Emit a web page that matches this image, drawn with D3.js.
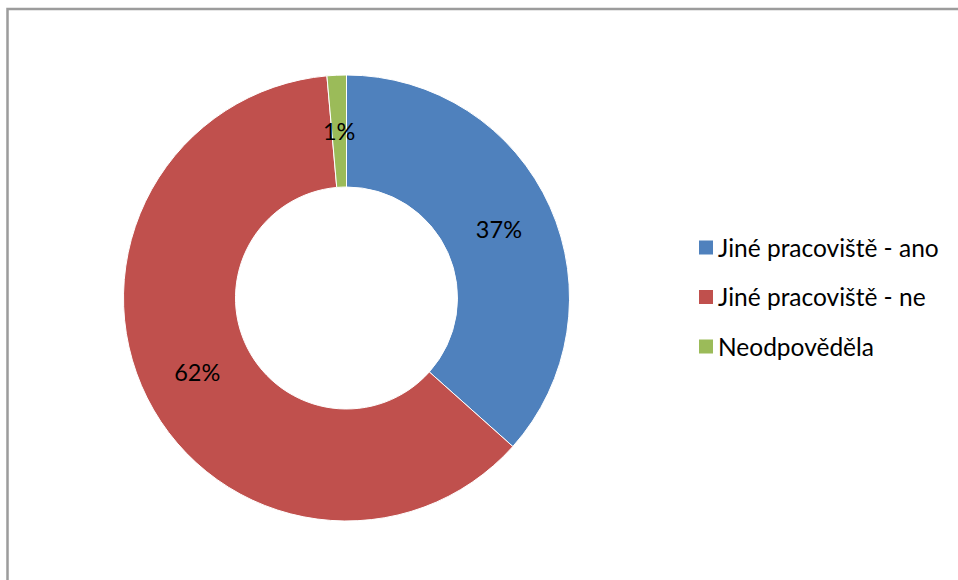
<!DOCTYPE html>
<html>
<head>
<meta charset="utf-8">
<script src="https://cdn.jsdelivr.net/npm/d3@7/dist/d3.min.js"></script>
<style>
  html, body { margin: 0; padding: 0; background: #fff; }
  svg { display: block; }
</style>
</head>
<body>
<svg id="chart" width="958" height="580"></svg>
<script>
// Survey answers: share of respondents (percent)
const categories = ["Jiné pracoviště - ano", "Jiné pracoviště - ne", "Neodpověděla"];
const shares = [36.6, 62.0, 1.4];
const colors = ["#4F81BD", "#C0504D", "#9BBB59"];

const W = 958, H = 580;
const cx = 346.5, cy = 298;
const rOuter = 223, rInner = 111;
const font = "Lato, 'Noto Sans', sans-serif";

const svg = d3.select("#chart");

// chart frame (open on the right and bottom edges of the page)
svg.append("rect")
  .attr("x", 7.5).attr("y", 9)
  .attr("width", 1200).attr("height", 1200)
  .attr("fill", "none")
  .attr("stroke", "#9c9c9c")
  .attr("stroke-width", 2.5);

const data = categories.map((c, i) => ({ name: c, value: shares[i], color: colors[i] }));

const pie = d3.pie().value(d => d.value).sort(null).startAngle(0).endAngle(2 * Math.PI);
const arc = d3.arc().innerRadius(rInner).outerRadius(rOuter);
const labelArc = d3.arc().innerRadius((rInner + rOuter) / 2).outerRadius((rInner + rOuter) / 2);

const g = svg.append("g").attr("transform", `translate(${cx},${cy})`);
const arcs = pie(data);

g.selectAll("path.slice")
  .data(arcs)
  .join("path")
  .attr("class", "slice")
  .attr("d", arc)
  .attr("fill", d => d.data.color)
  .attr("stroke", "#fff")
  .attr("stroke-width", 1);

g.selectAll("text.pct")
  .data(arcs)
  .join("text")
  .attr("class", "pct")
  .attr("transform", d => `translate(${labelArc.centroid(d)})`)
  .attr("text-anchor", "middle")
  .attr("dy", "0.36em")
  .attr("font-family", font)
  .attr("font-size", 23.5)
  .attr("fill", "#000")
  .text(d => Math.round(d.data.value) + "%");

// legend
const legend = svg.append("g").attr("transform", "translate(699,248)");
const rowH = 49.5;
const item = legend.selectAll("g.item")
  .data(data)
  .join("g")
  .attr("class", "item")
  .attr("transform", (d, i) => `translate(0,${i * rowH})`);

item.append("rect")
  .attr("x", 0).attr("y", -7.5)
  .attr("width", 14).attr("height", 14)
  .attr("fill", d => d.color);

item.append("text")
  .attr("x", 19)
  .attr("dy", "0.36em")
  .attr("font-family", font)
  .attr("font-size", 24.5)
  .attr("fill", "#000")
  .text(d => d.name);
</script>
</body>
</html>
